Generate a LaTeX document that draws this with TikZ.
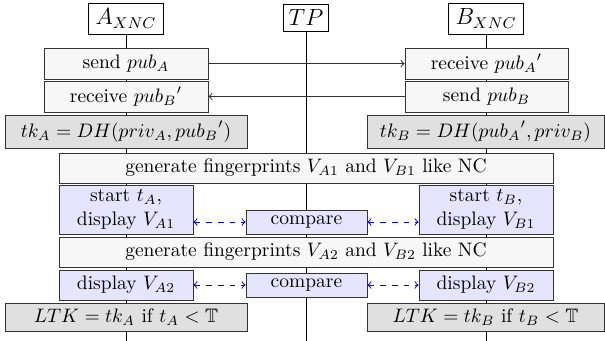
\documentclass[tikz,border=0pt]{standalone}
\usepackage{amssymb}
\begin{document}
\begin{tikzpicture}[x=0.513pt,y=-0.513pt,
  bx/.style={draw=black!80,line width=0.5pt,inner sep=0pt,align=center},
  plain/.style={bx,fill=black!3},
  lav/.style={bx,fill=blue!10},
  grey/.style={bx,fill=black!12},
  hdr/.style={draw=black,line width=0.5pt,fill=white,inner sep=0pt,font=\large},
  msg/.style={->,line width=0.5pt,black!80},
  cmp/.style={<->,dashed,blue,line width=0.5pt},
  life/.style={line width=0.5pt,black}]
\useasboundingbox (0,0) rectangle (605,341);
% headers
\node[hdr,minimum width=75*0.513pt,minimum height=31*0.513pt] (A) at (126,18.5) {$A_{XNC}$};
\node[hdr,minimum width=45*0.513pt,minimum height=27*0.513pt] (T) at (306,18) {$TP$};
\node[hdr,minimum width=75*0.513pt,minimum height=31*0.513pt] (B) at (486,18.5) {$B_{XNC}$};
\coordinate (Ae) at (126,341);
\coordinate (Te) at (306,341);
\coordinate (Be) at (486,341);
\draw[life] (A.south) -- (Ae);
\draw[life] (T.south) -- (Te);
\draw[life] (B.south) -- (Be);
% messages
\node[plain,minimum width=164*0.513pt,minimum height=31*0.513pt] (sA) at (126,63.5) {send $pub_A$};
\node[plain,minimum width=164*0.513pt,minimum height=31*0.513pt] (rA) at (126,96.5) {receive ${pub_B}'$};
\node[plain,minimum width=163*0.513pt,minimum height=31*0.513pt] (rB) at (486.5,63.5) {receive ${pub_A}'$};
\node[plain,minimum width=163*0.513pt,minimum height=31*0.513pt] (sB) at (486.5,96.5) {send $pub_B$};
\draw[msg] (sA) -- (rB);
\draw[msg] (sB) -- (rA);
% keys
\node[grey,minimum width=242*0.513pt,minimum height=33*0.513pt] (kA) at (126,131.5) {$tk_A = DH(priv_A, {pub_B}')$};
\node[grey,minimum width=237*0.513pt,minimum height=33*0.513pt] (kB) at (485.5,131.5) {$tk_B = DH({pub_A}', priv_B)$};
% round 1
\node[plain,minimum width=494*0.513pt,minimum height=30*0.513pt] (g1) at (306,168) {generate fingerprints $V_{A1}$ and $V_{B1}$ like NC};
\node[lav,minimum width=134*0.513pt,minimum height=49*0.513pt] (dA1) at (126,209.5) {start $t_A$,\\display $V_{A1}$};
\node[lav,minimum width=121*0.513pt,minimum height=24*0.513pt] (c1) at (306.5,222) {compare};
\node[lav,minimum width=134*0.513pt,minimum height=49*0.513pt] (dB1) at (486,209.5) {start $t_B$,\\display $V_{B1}$};
\draw[cmp] (dA1.east |- c1) -- (c1.west);
\draw[cmp] (c1.east) -- (dB1.west |- c1);
% round 2
\node[plain,minimum width=494*0.513pt,minimum height=30*0.513pt] (g2) at (306,252) {generate fingerprints $V_{A2}$ and $V_{B2}$ like NC};
\node[lav,minimum width=134*0.513pt,minimum height=30*0.513pt] (dA2) at (126,285) {display $V_{A2}$};
\node[lav,minimum width=121*0.513pt,minimum height=24*0.513pt] (c2) at (306.5,285) {compare};
\node[lav,minimum width=134*0.513pt,minimum height=30*0.513pt] (dB2) at (486,285) {display $V_{B2}$};
\draw[cmp] (dA2) -- (c2);
\draw[cmp] (c2) -- (dB2);
% LTK
\node[grey,minimum width=242*0.513pt,minimum height=28*0.513pt] (lA) at (126,317) {$LTK = tk_A$ if $t_A < \mathbb{T}$};
\node[grey,minimum width=237*0.513pt,minimum height=28*0.513pt] (lB) at (485.5,317) {$LTK = tk_B$ if $t_B < \mathbb{T}$};
\end{tikzpicture}
\end{document}
